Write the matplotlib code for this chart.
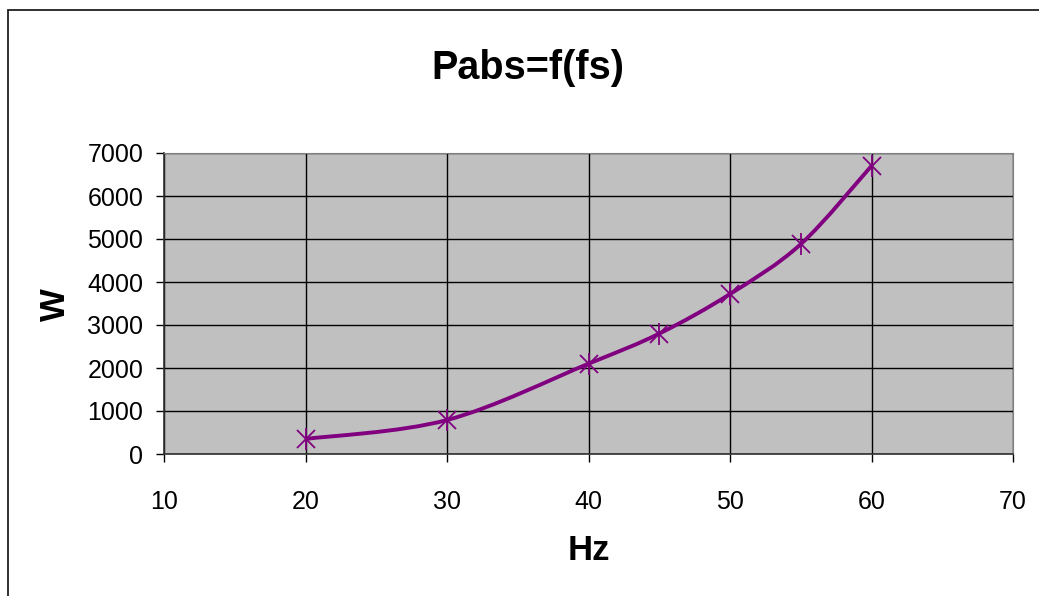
import matplotlib.pyplot as plt
from matplotlib.path import Path
from matplotlib.patches import PathPatch, Rectangle
import numpy as np

# values
hz = [20, 30, 40, 45, 50, 55, 60]
watts = [350, 790, 2100, 2800, 3720, 4880, 6700]
x_ticks = [10, 20, 30, 40, 50, 60, 70]
y_ticks = [0, 1000, 2000, 3000, 4000, 5000, 6000, 7000]

purple = "#800080"

plt.rcParams['font.family'] = ['Liberation Sans', 'DejaVu Sans']

fig = plt.figure(figsize=(10.39, 5.96), dpi=100)
ax = fig.add_axes([164 / 1039, 1 - 454 / 596, (1013 - 164) / 1039, (454 - 153) / 596])
ax.set_facecolor("#c0c0c0")

# outer chart frame (only left and top edges visible in the picture)
fig.patches.append(Rectangle((8 / 1039, -0.2), 1.5, 1.2 - 10 / 596,
                             transform=fig.transFigure, fill=False,
                             edgecolor="#202020", linewidth=1.3))


def smooth_path(xs, ys):
    # Excel-style smoothed line: Catmull-Rom segments as cubic Beziers
    pts = np.column_stack([xs, ys]).astype(float)
    verts = [pts[0]]
    codes = [Path.MOVETO]
    n = len(pts)
    for i in range(n - 1):
        p0 = pts[max(i - 1, 0)]
        p1 = pts[i]
        p2 = pts[i + 1]
        p3 = pts[min(i + 2, n - 1)]
        c1 = p1 + (p2 - p0) / 6
        c2 = p2 - (p3 - p1) / 6
        verts += [c1, c2, p2]
        codes += [Path.CURVE4] * 3
    return Path(verts, codes)


ax.add_patch(PathPatch(smooth_path(hz, watts), facecolor="none",
                       edgecolor=purple, linewidth=2.8, zorder=3))
# star marker: an x with a vertical bar
ax.plot(hz, watts, linestyle="none", marker="x", markersize=13,
        markeredgewidth=1.3, color=purple, zorder=4)
ax.plot(hz, watts, linestyle="none", marker="|", markersize=16,
        markeredgewidth=1.3, color=purple, zorder=4)

ax.set_xlim(10, 70)
ax.set_ylim(0, 7000)
ax.set_xticks(x_ticks)
ax.set_yticks(y_ticks)
ax.grid(True, color="black", linewidth=1)
ax.set_axisbelow(True)
ax.tick_params(labelsize=18, length=6, width=1, direction="out", pad=9)
ax.tick_params(axis="x", pad=20)

for side in ["top", "right"]:
    ax.spines[side].set_color("#808080")
for side in ["left", "bottom"]:
    ax.spines[side].set_color("#303030")
    ax.spines[side].set_linewidth(1.2)

fig.text(528 / 1039, 1 - 68 / 596, "Pabs=f(fs)", ha="center", va="center",
         fontsize=28.5, fontweight="bold")
fig.text(589 / 1039, 1 - 550 / 596, "Hz", ha="center", va="center",
         fontsize=25, fontweight="bold")
fig.text(55 / 1039, 1 - 305 / 596, "W", ha="center", va="center",
         fontsize=25, fontweight="bold", rotation=90)

fig.savefig("out.png", dpi=100)
